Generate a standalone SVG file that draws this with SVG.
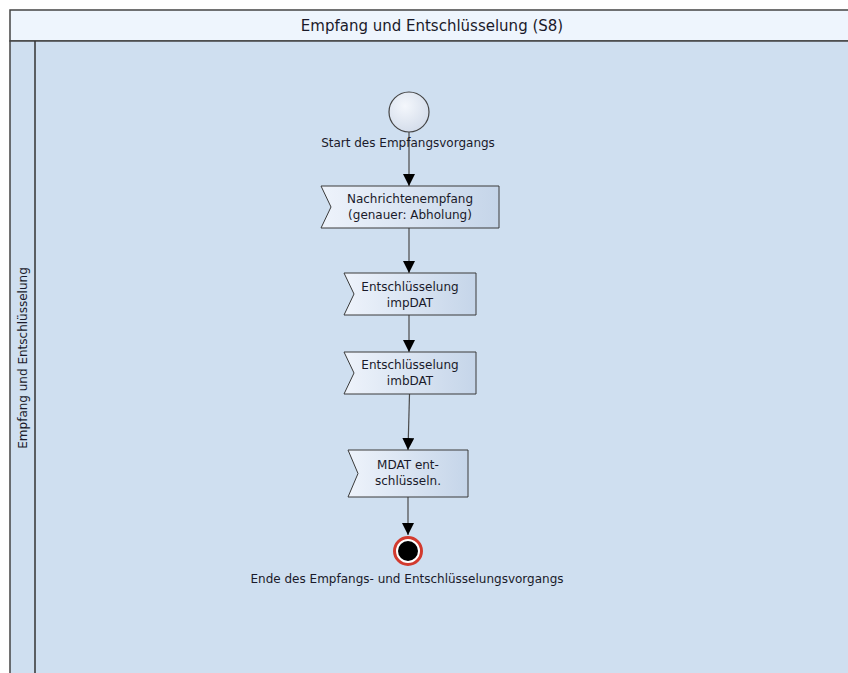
<svg xmlns="http://www.w3.org/2000/svg" width="848" height="673" viewBox="0 0 848 673">
<defs>
<linearGradient id="tg" x1="0" y1="0" x2="1" y2="0">
<stop offset="0" stop-color="#eef3fb"/>
<stop offset="1" stop-color="#c5d5e9"/>
</linearGradient>
<radialGradient id="sg" cx="0.4" cy="0.35" r="0.7">
<stop offset="0" stop-color="#f4f7fc"/>
<stop offset="1" stop-color="#d3dcea"/>
</radialGradient>
<marker id="arrL" viewBox="0 0 12 12" refX="12" refY="6" markerWidth="12" markerHeight="12" markerUnits="userSpaceOnUse" orient="auto">
<path d="M0,0 L12,6 L0,12 z" fill="#000"/>
</marker>
</defs>
<style>
text{font-family:"DejaVu Sans","Liberation Sans",sans-serif;fill:#1a1a2a;}
.lbl{font-size:12px;text-anchor:middle;}
.task{fill:url(#tg);stroke:#3a3a3a;stroke-width:1;}
.conn{stroke:#4a4a4a;stroke-width:1.2;fill:none;marker-end:url(#arrL);}
</style>
<rect x="0" y="0" width="848" height="673" fill="#ffffff"/>
<g id="pool">
<rect x="10" y="10" width="850" height="31" fill="#eef5fd" stroke="#444" stroke-width="1.5"/>
<rect x="10" y="41" width="850" height="640" fill="#cfdff0" stroke="#444" stroke-width="1.5"/>
<line x1="35" y1="41" x2="35" y2="680" stroke="#333" stroke-width="1.5"/>
<text x="432" y="31" style="font-size:15px;text-anchor:middle;">Empfang und Entschlüsselung (S8)</text>
<text transform="translate(27,358) rotate(-90)" style="font-size:12px;text-anchor:middle;">Empfang und Entschlüsselung</text>
</g>
<g id="connectors">
<line class="conn" x1="409" y1="132" x2="409" y2="186"/>
<line class="conn" x1="409" y1="228" x2="409" y2="273"/>
<line class="conn" x1="409" y1="315" x2="409" y2="352"/>
<line class="conn" x1="409.5" y1="394" x2="408" y2="450"/>
<line class="conn" x1="408" y1="497" x2="408" y2="535"/>
</g>
<g id="start">
<circle cx="409" cy="112" r="20" fill="url(#sg)" stroke="#444" stroke-width="1.2"/>
<text class="lbl" x="408" y="147">Start des Empfangsvorgangs</text>
</g>
<g id="task1">
<path class="task" d="M321,186 H499 V228 H321 L331,207 Z"/>
<text class="lbl" x="410" y="203">Nachrichtenempfang</text>
<text class="lbl" x="410" y="219">(genauer: Abholung)</text>
</g>
<g id="task2">
<path class="task" d="M344,273 H476 V315 H344 L354,294 Z"/>
<text class="lbl" x="410" y="291">Entschlüsselung</text>
<text class="lbl" x="410" y="307">impDAT</text>
</g>
<g id="task3">
<path class="task" d="M344,352 H476 V394 H344 L354,373 Z"/>
<text class="lbl" x="410" y="369">Entschlüsselung</text>
<text class="lbl" x="410" y="385">imbDAT</text>
</g>
<g id="task4">
<path class="task" d="M348,450 H468 V497 H348 L358,473.5 Z"/>
<text class="lbl" x="408" y="469">MDAT ent-</text>
<text class="lbl" x="408" y="485">schlüsseln.</text>
</g>
<g id="end">
<circle cx="408" cy="551" r="13.5" fill="#ffffff" stroke="#d23a2e" stroke-width="3"/>
<circle cx="408" cy="551" r="10" fill="#000"/>
<text class="lbl" x="407" y="583">Ende des Empfangs- und Entschlüsselungsvorgangs</text>
</g>
</svg>
